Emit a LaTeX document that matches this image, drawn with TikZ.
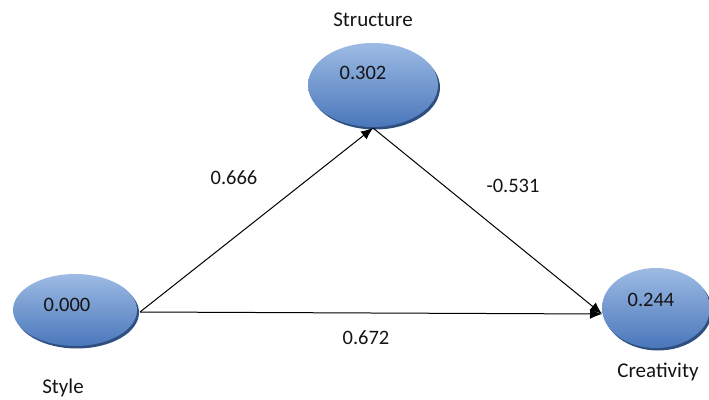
\documentclass[tikz,border=0pt]{standalone}
\usepackage{fontspec}
\setmainfont{Carlito}
\usetikzlibrary{arrows.meta,shapes.geometric}
\definecolor{elltop}{HTML}{9DBBE4}
\definecolor{ellbot}{HTML}{4A77BB}
\definecolor{ellshadow}{HTML}{2F4F80}
\definecolor{txtdark}{HTML}{141414}
\tikzset{
  anch/.style={ellipse, inner sep=0pt, draw=none},
  lbl/.style={font=\fontsize{21}{24}\selectfont, text=txtdark, inner sep=0pt},
  val/.style={font=\fontsize{20.5}{24}\selectfont, text=txtdark, inner sep=0pt},
  conn/.style={draw=black, line width=1pt, -{Latex[length=12pt,width=10pt]}},
}
\begin{document}
\begin{tikzpicture}[x=1pt,y=1pt]
\useasboundingbox (0,0) rectangle (709,399);
% shadows
\fill[ellshadow] (375,311.5) ellipse [x radius=65, y radius=42];
\fill[ellshadow] (77,86.5) ellipse [x radius=62, y radius=36];
\fill[ellshadow] (658,88.5) ellipse [x radius=54, y radius=40];
% ellipses
\shade[top color=elltop, bottom color=ellbot] (373,314) ellipse [x radius=65, y radius=42];
\shade[top color=elltop, bottom color=ellbot] (75,89) ellipse [x radius=62, y radius=36];
\shade[top color=elltop, bottom color=ellbot] (656,91) ellipse [x radius=54, y radius=40];
% invisible anchor nodes
\node[anch, minimum width=130pt, minimum height=84pt] (struct) at (373,314) {};
\node[anch, minimum width=124pt, minimum height=72pt] (style) at (75,89) {};
\node[anch, minimum width=108pt, minimum height=80pt] (creat) at (656,91) {};
% values
\node[val] (vstruct) at (363,326) {0.302};
\node[val] (vstyle) at (67,94) {0.000};
\node[val] (vcreat) at (651,99) {0.244};
% labels
\node[lbl] (lstruct) at (373,379) {Structure};
\node[lbl] (lstyle) at (63,11) {Style};
\node[lbl] (lcreat) at (658,27) {Creativity};
% connectors
\coordinate (sE) at (140,87);
\coordinate (stB) at (373,271);
\coordinate (cW) at (602,85);
\draw[conn] (sE) -- (stB);
\draw[conn] (sE) -- (cW);
\draw[conn] (stB) -- (cW);
% edge labels
\node[val] (e1) at (234,221) {0.666};
\node[val] (e2) at (513,213) {-0.531};
\node[val] (e3) at (366,61) {0.672};
\end{tikzpicture}
\end{document}
